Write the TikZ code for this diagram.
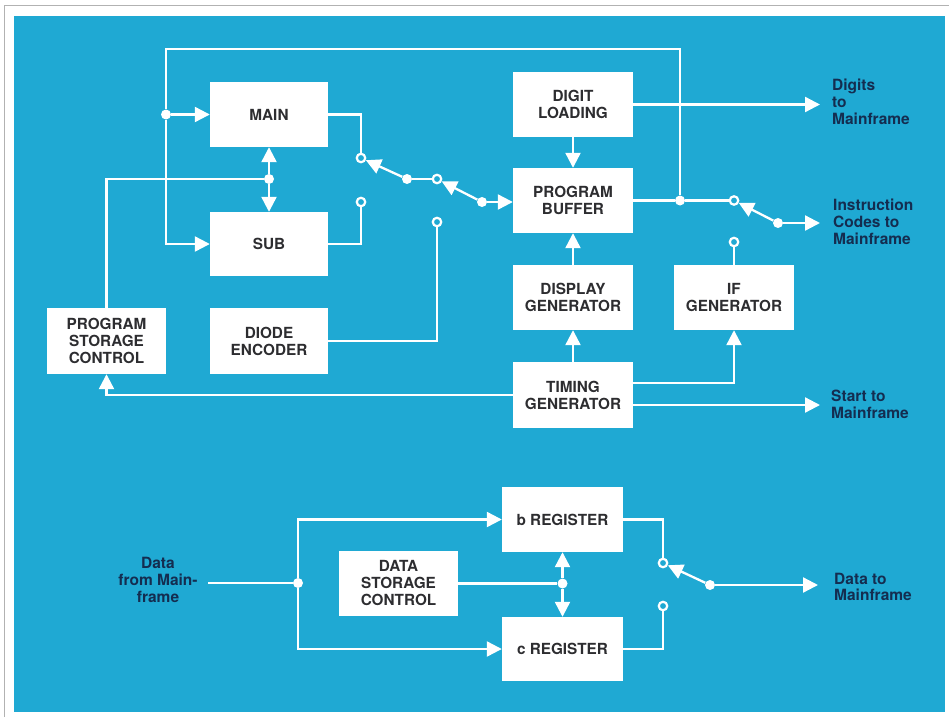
\documentclass[tikz,border=0pt]{standalone}
\usepackage{fontspec}
\setmainfont{TeX Gyre Heros}
\usetikzlibrary{arrows.meta}
\definecolor{bg}{RGB}{31,169,211}
\definecolor{boxtxt}{RGB}{45,45,48}
\definecolor{lbltxt}{RGB}{20,45,80}
\tikzset{
  blk/.style={fill=white, draw=none, inner sep=0pt, align=center, text=boxtxt,
    font=\fontsize{15.3}{17}\selectfont\bfseries},
  wire/.style={draw=white, line width=2.3pt},
  arr/.style={wire, -{Triangle[length=15pt,width=15pt]}},
  contact/.style={circle, draw=white, fill=bg, line width=2.2pt, inner sep=0pt, minimum size=8.5pt},
  dotn/.style={circle, fill=white, inner sep=0pt, minimum size=10pt},
  lbl/.style={inner sep=0pt, align=left, text=lbltxt, font=\fontsize{15.5}{16.8}\selectfont\bfseries},
}
\begin{document}
\begin{tikzpicture}[x=1pt,y=-1pt]
\useasboundingbox (0,0) rectangle (949,717);
\fill[white] (0,0) rectangle (949,717);
\draw[gray!60, line width=0.8pt] (4,717) -- (4,5) -- (949,5);
\fill[bg] (14,16) rectangle (945,712);

% blocks
\node[blk, minimum width=118pt, minimum height=65pt] (MAIN) at (269,114.5) {MAIN};
\node[blk, minimum width=118pt, minimum height=64pt] (SUB) at (269,244) {SUB};
\node[blk, minimum width=119pt, minimum height=66pt] (PSC) at (106.5,341) {PROGRAM\\STORAGE\\CONTROL};
\node[blk, minimum width=118pt, minimum height=66pt] (DE) at (269,341) {DIODE\\ENCODER};
\node[blk, minimum width=120pt, minimum height=65pt] (DL) at (573,104.5) {DIGIT\\LOADING};
\node[blk, minimum width=120pt, minimum height=65pt] (PB) at (573,200.5) {PROGRAM\\BUFFER};
\node[blk, minimum width=120pt, minimum height=65pt] (DG) at (573,297.5) {DISPLAY\\GENERATOR};
\node[blk, minimum width=120pt, minimum height=65pt] (IF) at (734,297.5) {IF\\GENERATOR};
\node[blk, minimum width=120pt, minimum height=66pt] (TG) at (573,395) {TIMING\\GENERATOR};
\node[blk, minimum width=121pt, minimum height=65pt] (BR) at (562.5,519.5) {b REGISTER};
\node[blk, minimum width=121pt, minimum height=64pt] (CR) at (562.5,649) {c REGISTER};
\node[blk, minimum width=119pt, minimum height=65pt] (DSC) at (398.5,583.5) {DATA\\STORAGE\\CONTROL};

% junctions, contacts
\coordinate (tl) at (166,49);
\node[dotn] (jm) at (166,114.5) {};
\node[dotn] (pj) at (680,200.5) {};
\node[dotn] (jms) at (269,179) {};
\node[contact] (s1a) at (361,158) {};
\node[contact] (s1b) at (361,202) {};
\node[dotn] (s1p) at (407,179) {};
\node[contact] (s2a) at (437,179) {};
\node[contact] (s2b) at (437,222) {};
\node[dotn] (s2p) at (482,202) {};
\node[contact] (s3a) at (734,200.5) {};
\node[contact] (s3b) at (734,242) {};
\node[dotn] (s3p) at (778,223) {};
\coordinate (o1) at (820,104.5);
\coordinate (o2) at (820,223);
\coordinate (o3) at (820,405);

% top section wiring
\draw[wire] (pj) -- (pj |- tl) -- (tl) -- (jm);
\draw[arr] (jm) -- (MAIN.west);
\draw[arr] (jm) |- (SUB.west);
\draw[wire] (MAIN.east) -| (s1a);
\draw[wire] (SUB.east) -| (s1b);
\draw[arr] (s1p) -- (s1a);
\draw[wire] (s1p) -- (s2a);
\draw[arr] (s2p) -- (s2a);
\draw[arr] (s2p) -- (s2p -| PB.west);
\draw[wire] (DE.east) -| (s2b);
\draw[wire] (PSC.north) |- (jms);
\draw[arr] (jms) -- (MAIN.south);
\draw[arr] (jms) -- (SUB.north);
\draw[arr] (DL.south) -- (PB.north);
\draw[arr] (DL.east) -- (o1);
\draw[arr] (DG.north) -- (PB.south);
\draw[arr] (TG.north) -- (DG.south);
\draw[wire] (PB.east) -- (pj) -- (s3a);
\draw[arr] (s3p) -- (s3a);
\draw[arr] (s3p) -- (o2);
\draw[wire] (IF.north) -- (s3b);
\draw[arr] ([yshift=12pt]TG.east) -| (IF.south);
\draw[arr] ([yshift=-10pt]TG.east) -- (o3);
\draw[arr] (TG.west) -| (PSC.south);

% bottom section
\coordinate (din) at (208,583);
\node[dotn] (bj) at (298,583) {};
\node[dotn] (dj) at (562.5,583.5) {};
\node[contact] (s4a) at (663,563) {};
\node[contact] (s4b) at (663,606) {};
\node[dotn] (s4p) at (710,585) {};
\coordinate (o4) at (818,585);
\draw[wire] (din) -- (bj);
\draw[arr] (bj) |- (BR.west);
\draw[arr] (bj) |- (CR.west);
\draw[wire] (DSC.east) -- (dj);
\draw[arr] (dj) -- (BR.south);
\draw[arr] (dj) -- (CR.north);
\draw[wire] (BR.east) -| (s4a);
\draw[wire] (CR.east) -| (s4b);
\draw[arr] (s4p) -- (s4a);
\draw[arr] (s4p) -- (o4);

% outside labels
\node[lbl, anchor=west] (l1) at (832,102) {Digits\\to\\Mainframe};
\node[lbl, anchor=west] (l2) at (833,222) {Instruction\\Codes to\\Mainframe};
\node[lbl, anchor=west] (l3) at (831,404) {Start to\\Mainframe};
\node[lbl, anchor=west] (l4) at (834,587) {Data to\\Mainframe};
\node[lbl, align=center] (l5) at (158,580) {Data\\from Main-\\frame};
\end{tikzpicture}
\end{document}
